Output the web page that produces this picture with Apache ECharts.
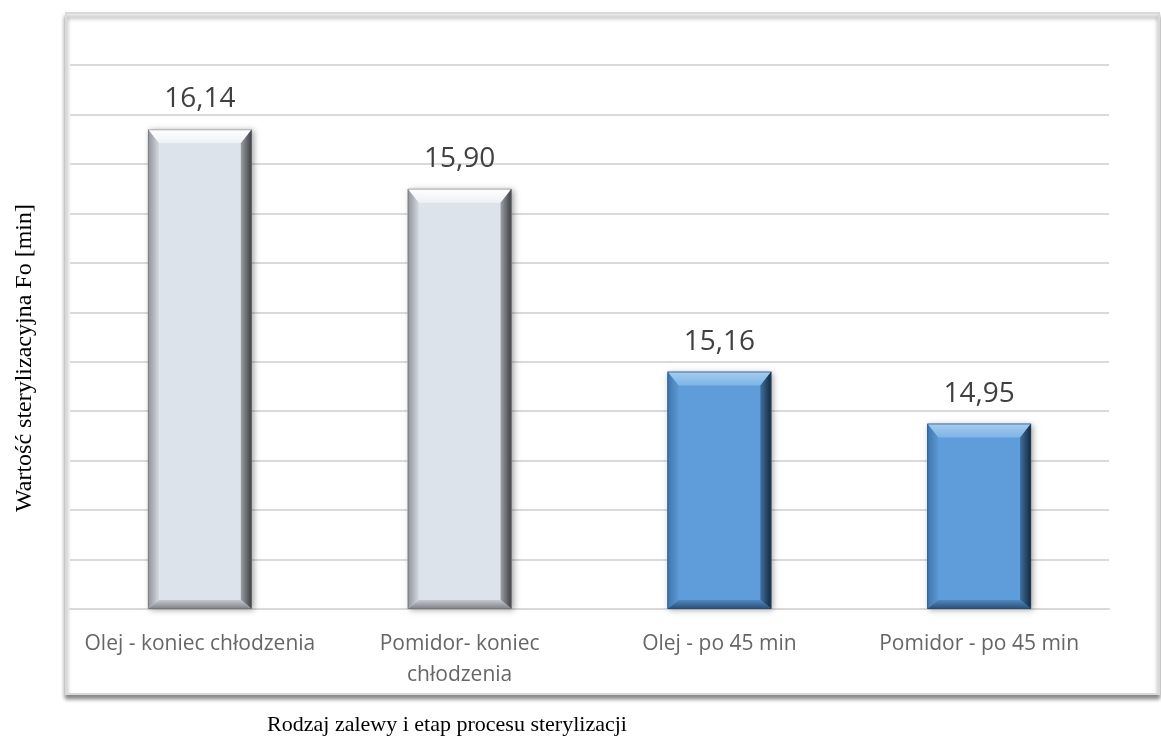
<!DOCTYPE html>
<html>
<head>
<meta charset="utf-8">
<script src="https://cdn.jsdelivr.net/npm/echarts@6/dist/echarts.min.js"></script>
<style>
  html, body { margin: 0; padding: 0; background: #ffffff; }
  #chart { width: 1161px; height: 740px; }
</style>
</head>
<body>
<div id="chart"></div>
<script>
// Sterilisation value Fo for each brine type and process stage
const categories = [
  'Olej - koniec chłodzenia',
  'Pomidor- koniec\nchłodzenia',
  'Olej - po 45 min',
  'Pomidor - po 45 min'
];
const values = [16.14, 15.90, 15.16, 14.95];
const yTitle = 'Wartość sterylizacyjna Fo [min]';
const xTitle = 'Rodzaj zalewy i etap procesu sterylizacji';

const Y_MIN = 14.2;
const Y_MAX = 16.4;
const Y_STEP = 0.2;

// bevelled bar colours: gray for the end-of-cooling stage, blue for the 45 min stage
const palettes = [
  { face: '#dde3eb', top: ['#ffffff', '#eef1f5'], leftO: '#8f9297', leftI: '#d3d8df',
    rightO: '#3a3c40', rightI: '#9ca0a6', bottom: ['#c4c9d0', '#7d8086'], edge: '#6b6e73' },
  { face: '#5e9dd9', top: ['#a6cdf0', '#7db4e6'], leftO: '#3f76ae', leftI: '#5a97d2',
    rightO: '#14283d', rightI: '#3f6f9f', bottom: ['#4f88c0', '#284d74'], edge: '#2a4a6b' }
];

function fmt(v) { return v.toFixed(2).replace('.', ','); }

function lin(x1, y1, x2, y2, c1, c2) {
  return new echarts.graphic.LinearGradient(x1, y1, x2, y2, [
    { offset: 0, color: c1 }, { offset: 1, color: c2 }
  ]);
}

function renderBar(params, api) {
  const idx = api.value(0);
  const v = api.value(1);
  const top = api.coord([idx, v]);
  const base = api.coord([idx, Y_MIN]);
  const band = api.size([1, 0])[0];
  const w = band * 0.4;
  const x = top[0] - w / 2;
  const y = top[1];
  const h = base[1] - top[1];
  const bt = 14, bs = 11, bb = 9;
  const p = palettes[idx < 2 ? 0 : 1];
  return {
    type: 'group',
    children: [
      { type: 'rect', shape: { x: x, y: y, width: w, height: h },
        style: { fill: p.face, shadowBlur: 6, shadowColor: 'rgba(0,0,0,0.35)', shadowOffsetX: 2, shadowOffsetY: 1 } },
      { type: 'polygon', shape: { points: [[x, y], [x + w, y], [x + w - bs, y + bt], [x + bs, y + bt]] },
        style: { fill: lin(0, 0, 0, 1, p.top[0], p.top[1]) } },
      { type: 'polygon', shape: { points: [[x, y], [x + bs, y + bt], [x + bs, y + h - bb], [x, y + h]] },
        style: { fill: lin(0, 0, 1, 0, p.leftO, p.leftI) } },
      { type: 'polygon', shape: { points: [[x + w, y], [x + w, y + h], [x + w - bs, y + h - bb], [x + w - bs, y + bt]] },
        style: { fill: lin(1, 0, 0, 0, p.rightO, p.rightI) } },
      { type: 'polygon', shape: { points: [[x, y + h], [x + bs, y + h - bb], [x + w - bs, y + h - bb], [x + w, y + h]] },
        style: { fill: lin(0, 0, 0, 1, p.bottom[0], p.bottom[1]) } },
      { type: 'rect', shape: { x: x + 0.5, y: y + 0.5, width: w - 1, height: h - 1 },
        style: { fill: null, stroke: p.edge, lineWidth: 1, opacity: 0.6 } },
      { type: 'text', x: top[0], y: y - 16,
        style: { text: fmt(v), fill: '#404040', font: '28px "Open Sans"', align: 'center', verticalAlign: 'bottom' } }
    ]
  };
}

const chart = echarts.init(document.getElementById('chart'), null, { renderer: 'canvas' });
chart.setOption({
  backgroundColor: '#ffffff',
  animation: false,
  graphic: [
    // chart area frame with soft shadow
    { type: 'rect', z: -10, shape: { x: 66, y: 13, width: 1093, height: 681 },
      style: { fill: '#ffffff', stroke: '#d9d9d9', lineWidth: 2,
               shadowBlur: 4, shadowOffsetY: 4, shadowOffsetX: 0, shadowColor: 'rgba(0,0,0,0.45)' } },
    { type: 'text', x: 447, y: 725, z: 10,
      style: { text: xTitle, fill: '#000000', font: '22px "Liberation Serif"', align: 'center', verticalAlign: 'middle' } },
    { type: 'text', x: 25, y: 358, rotation: Math.PI / 2, z: 10,
      style: { text: yTitle, fill: '#000000', font: '24px "Liberation Serif"', align: 'center', verticalAlign: 'middle' } }
  ],
  grid: { left: 70, right: 52, top: 65, bottom: 131 },
  xAxis: {
    type: 'category',
    data: categories,
    axisLine: { show: true, lineStyle: { color: '#d9d9d9', width: 2 } },
    axisTick: { show: false },
    axisLabel: { interval: 0, color: '#666666', fontSize: 21, fontFamily: 'Open Sans', margin: 20, lineHeight: 31 }
  },
  yAxis: {
    type: 'value',
    min: Y_MIN,
    max: Y_MAX,
    interval: Y_STEP,
    axisLine: { show: false },
    axisTick: { show: false },
    axisLabel: { show: false },
    splitLine: { show: true, lineStyle: { color: '#dadada', width: 2 } }
  },
  series: [{
    type: 'custom',
    renderItem: renderBar,
    data: values.map((v, i) => [i, v]),
    encode: { x: 0, y: 1 },
    clip: false
  }]
});
</script>
</body>
</html>
